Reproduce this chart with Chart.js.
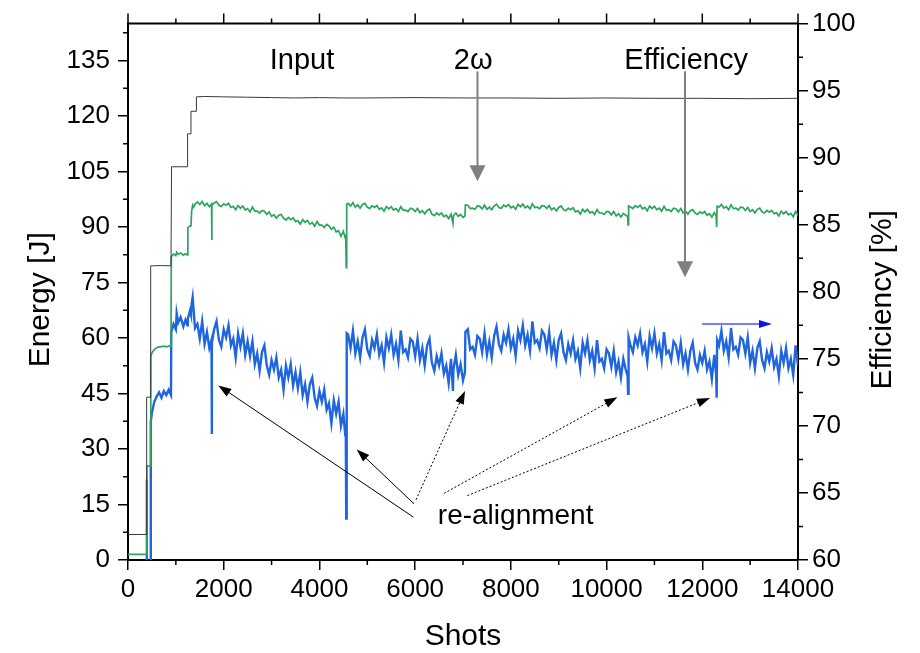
<!DOCTYPE html>
<html>
<head>
<meta charset="utf-8">
<script src="https://cdn.jsdelivr.net/npm/chart.js@4.4.1/dist/chart.umd.min.js"></script>
<style>
html,body{margin:0;padding:0;background:#fff;}
canvas{display:block;}
</style>
</head>
<body>
<canvas id="c" width="920" height="653"></canvas>
<script>
// ---------------- DATA ----------------
// Input energy (J) vs shots
const inputShots  = [0,380,390,470,474,700,898,910,1240,1245,1310,1316,1421,1430,1600,2000,2500,3000,3500,4000,4500,5000,6000,7000,8000,9000,10000,11000,12000,13000,14000];
const inputEnergy = [6.9,6.9,44.0,44.0,79.5,79.6,79.5,106.3,106.3,115.2,115.2,121.3,121.3,125.2,125.3,125.2,125.1,125.0,124.9,125.0,124.9,124.9,125.0,124.9,124.9,124.8,124.9,124.8,124.8,124.7,124.8];

// Shots for 2ω energy and efficiency, by segment between re-alignments
const shotsRamp = [0,380,392,396,470,476,500,550,600,650,700,750,800,850,898,905,950,1000,1017,1050,1100,1156,1200,1240,1250,1296,1316,1330,1351,1370,1400];
const shgRamp   = [1.5,1.5,25.4,25.4,25.4,55.0,56.0,56.9,57.4,57.6,57.7,57.8,57.6,57.8,57.8,82.0,82.7,82.3,83.2,82.6,83.0,82.4,82.8,82.5,89.8,90.3,90.6,94.3,95.9,95.4,96.2];
const effRamp   = [22,22,66,57,57,70.3,71.0,71.8,72.2,72.5,72.1,72.6,72.3,72.7,72.3,77.0,77.6,77.2,78.4,77.7,78.1,77.4,77.9,77.5,78.0,78.6,78.3,79.1,79.6,78.7,77.3];

const shotsRun1 = [1450,1500,1550,1600,1650,1700,1745,1750,1755,
  1800,1850,1900,1950,
  2000,2050,2100,2150,2200,2250,2300,2350,2400,2450,2500,2550,2600,2650,2700,2750,2800,2850,2900,2950,
  3000,3050,3100,3150,3200,3250,3300,3350,3400,3450,3500,3550,3600,3650,3700,3750,3800,3850,3900,3950,
  4000,4050,4100,4150,4200,4250,4300,4350,4400,4450,4500,
  4540,4550,4560,4570];
const shgRun1 = [96.8,96.1,96.9,95.8,96.4,95.5,96.2,86.5,96.0,
  96.5,96.9,95.9,95.6,
  96.3,95.9,96.4,95.3,95.6,94.7,95.8,95.1,95.7,94.6,95.0,94.1,95.4,94.3,94.3,93.8,94.5,94.3,93.4,94.1,
  92.9,93.3,92.4,93.2,93.4,92.4,91.9,92.6,92.0,92.5,91.5,91.7,90.8,92.0,91.3,91.8,90.8,91.2,90.2,91.5,
  90.5,90.5,89.9,90.7,90.3,89.4,90.0,88.7,89.0,87.5,88.9,
  87.0,88.0,79.0,96.2];
const effRun1 = [77.6,76.5,77.8,76.1,77.0,75.8,76.4,69.4,76.2,
  77.2,77.8,76.4,75.9,
  77.2,76.6,77.5,76.0,76.5,75.1,76.9,75.9,76.9,75.3,76.3,75.2,76.3,74.6,75.4,74.1,75.5,76.0,74.5,73.8,
  74.9,74.2,75.1,73.6,74.2,72.7,74.5,73.6,74.6,73.0,74.0,72.8,74.0,72.3,73.1,71.8,73.1,73.6,72.1,71.5,
  72.6,71.8,72.7,71.2,71.7,70.2,71.9,70.9,71.8,70.0,70.9,
  69.3,70.0,63.1,76.9];

const shotsRun2 = [4600,4650,4700,4750,4800,4850,4900,4950,
  5000,5050,5100,5150,5200,5250,5300,5350,5400,5450,5500,5550,5600,5650,5700,5750,5800,5850,5900,5950,
  6000,6050,6100,6150,6200,6250,6300,6350,6400,6450,6500,6550,6600,6650,6700,6750,
  6790,6800,6850,6900,6950,7000,7040];
const shgRun2 = [96.4,95.7,96.6,95.4,96.0,95.1,96.1,96.4,
  95.4,95.0,95.8,95.3,95.8,94.8,95.2,94.3,95.5,94.9,95.5,94.6,95.0,94.2,95.5,94.6,94.6,94.2,95.1,94.9,
  94.2,95.0,93.9,94.4,93.6,94.5,94.9,93.5,93.1,93.8,93.3,93.8,92.8,93.2,92.3,93.5,
  91.0,93.1,93.8,92.9,93.4,92.6,93.0];
const effRun2 = [76.8,75.8,77.1,75.4,76.3,75.1,76.6,77.2,
  75.7,75.2,76.4,75.8,76.8,75.3,76.0,74.7,76.6,75.8,76.8,75.3,76.1,74.9,77.1,75.5,75.7,75.1,76.5,76.3,
  75.2,76.5,74.9,75.8,74.5,76.0,76.5,74.7,74.1,75.2,74.5,75.4,73.9,74.5,73.2,75.0,
  72.6,74.2,75.3,73.8,74.6,73.4,74.0];

const shotsRun3 = [7050,
  7100,7150,7200,7250,7300,7350,7400,7450,7500,7550,7600,7650,7700,7750,7800,7850,7900,7950,
  8000,8050,8100,8150,8200,8250,8300,8350,8400,8450,8500,8550,8600,8650,8700,8750,8800,8850,8900,8950,
  9000,9050,9100,9150,9200,9250,9300,9350,9400,9450,9500,9550,9600,9650,9700,9750,9800,9850,9900,9950,
  10000,10050,10100,10150,10200,10250,10300,10350,10400,
  10440,10450];
const shgRun3 = [96.0,
  95.9,95.0,95.1,94.8,95.7,95.6,94.9,95.9,94.8,95.4,94.7,95.7,96.2,95.3,95.1,95.9,95.5,96.1,
  95.2,95.6,94.8,96.1,95.5,96.2,95.2,95.7,94.9,96.3,95.3,95.4,95.0,95.8,95.7,95.0,95.8,94.7,95.2,94.4,
  95.3,95.7,94.7,94.4,95.1,94.7,95.2,94.1,94.4,93.5,94.8,94.1,94.8,93.8,94.2,93.4,94.7,93.8,93.8,93.4,
  94.2,94.1,93.3,94.2,93.0,93.6,92.7,93.7,93.2,
  92.9,90.6];
const effRun3 = [77.0,
  77.2,75.7,75.9,75.3,76.7,76.5,75.5,76.9,75.3,76.3,75.1,76.7,77.4,76.1,75.6,76.8,76.2,77.2,
  75.8,76.5,75.2,77.1,76.4,77.5,76.0,76.8,75.6,77.8,76.2,76.4,75.8,77.1,76.8,75.7,77.0,75.3,76.2,74.9,
  76.4,76.9,75.5,74.9,76.1,75.4,76.4,75.0,75.6,74.3,76.2,75.4,76.4,74.9,75.6,74.3,76.4,74.8,75.0,74.3,
  75.7,75.4,74.4,75.6,74.0,74.8,73.6,75.0,74.2,
  73.7,72.4];

const shotsRun4 = [10460,
  10500,10550,10600,10650,10700,10750,10800,10850,10900,10950,
  11000,11050,11100,11150,11200,11250,11300,11350,11400,11450,11500,11550,11600,11650,11700,11750,11800,11850,11900,11950,
  12000,12050,12100,12150,12200,12250,
  12290,12300];
const shgRun4 = [95.7,
  95.4,95.0,95.8,95.3,95.9,94.9,95.3,94.4,95.7,95.0,
  95.6,94.7,95.1,94.3,95.6,94.6,94.7,94.2,95.1,94.9,94.1,95.0,93.8,94.3,93.5,94.4,94.7,93.8,93.4,94.1,
  93.7,94.2,93.2,93.6,92.7,93.9,
  93.0,90.0];
const effRun4 = [76.6,
  76.0,75.5,76.6,76.0,76.9,75.5,76.1,74.8,76.7,75.8,
  76.9,75.4,76.1,74.9,77.0,75.4,75.6,74.9,76.3,76.0,75.0,76.2,74.6,75.4,74.2,75.6,76.2,74.7,74.2,75.3,
  74.7,75.6,74.2,74.8,73.5,75.3,
  73.8,72.1];

const shotsRun5 = [12310,
  12350,12400,12450,12500,12550,12600,12650,12700,12750,12800,12850,12900,12950,
  13000,13050,13100,13150,13200,13250,13300,13350,13400,13450,13500,13550,13600,13650,13700,13750,13800,13850,13900,13950,
  14000];
const shgRun5 = [95.6,
  95.4,96.1,95.1,95.5,94.7,96.0,95.0,95.1,94.6,95.4,95.3,94.5,95.3,
  94.2,94.7,93.8,94.8,95.1,94.1,93.8,94.5,94.0,94.5,93.6,93.9,93.0,94.3,93.6,94.2,93.3,93.7,92.8,94.2,
  93.2];
const effRun5 = [76.4,
  76.0,77.1,75.6,76.3,75.1,77.3,75.7,75.9,75.3,76.6,76.4,75.4,76.6,
  74.7,75.6,74.3,75.8,76.3,74.9,74.3,75.5,74.8,75.8,74.4,75.0,73.7,75.6,74.7,75.8,74.3,75.0,73.8,76.0,
  74.5];

// Axis tick values
const xMinorTicks  = [1000,3000,5000,7000,9000,11000,13000];
const xMajorTicks  = [0,2000,4000,6000,8000,10000,12000,14000];
const yMinorTicks  = [7.5,22.5,37.5,52.5,67.5,82.5,97.5,112.5,127.5,142.5];
const y2MinorTicks = [62.5,67.5,72.5,77.5,82.5,87.5,92.5,97.5];

// Annotations (data coordinates: shots / energy J / efficiency %)
const labelTexts  = ['Input', '2\u03c9', 'Efficiency', 're-alignment'];
const labelShots  = [3636, 7212, 11662, 8100];
const labelEnergy = [132.6, 132.6, 132.6, 9.6];
const grayArrowShots = [7303, 11639];
const grayArrowFromE = [132.1, 132.1];
const grayArrowToE   = [102.4, 76.4];
const ptrFromShot = [5963, 5976, 6018, 6603, 7090];
const ptrFromE    = [11.6, 15.2, 16.3, 18.0, 17.4];
const ptrToShot   = [1887, 4779, 7042, 10225, 12162];
const ptrToE      = [47.2, 29.9, 45.7, 44.0, 43.8];
const ptrDotted   = [false, false, true, true, true];
const blueArrowShots = [11994, 13457];
const blueArrowEff   = 77.6;

// ---------------- BUILD ----------------
const shotsAll = [].concat(shotsRamp, shotsRun1, shotsRun2, shotsRun3, shotsRun4, shotsRun5);
const shgAll   = [].concat(shgRamp, shgRun1, shgRun2, shgRun3, shgRun4, shgRun5);
const effAll   = [].concat(effRamp, effRun1, effRun2, effRun3, effRun4, effRun5);
[[shotsRamp,shgRamp,effRamp],[shotsRun1,shgRun1,effRun1],[shotsRun2,shgRun2,effRun2],[shotsRun3,shgRun3,effRun3],[shotsRun4,shgRun4,effRun4],[shotsRun5,shgRun5,effRun5]].forEach((g,i)=>{
  if (g[0].length!==g[1].length || g[0].length!==g[2].length) throw new Error('length mismatch in segment '+i+': '+g.map(a=>a.length).join(','));
});
if (inputShots.length!==inputEnergy.length) throw new Error('input length mismatch');

const FONT = "'Liberation Sans', Arial, sans-serif";
Chart.defaults.font.family = FONT;
Chart.defaults.color = '#000';

function arrowHead(ctx, x1, y1, x2, y2, len, half, color) {
  const ang = Math.atan2(y2 - y1, x2 - x1);
  ctx.fillStyle = color;
  ctx.beginPath();
  ctx.moveTo(x2, y2);
  ctx.lineTo(x2 - len*Math.cos(ang) + half*Math.sin(ang), y2 - len*Math.sin(ang) - half*Math.cos(ang));
  ctx.lineTo(x2 - len*Math.cos(ang) - half*Math.sin(ang), y2 - len*Math.sin(ang) + half*Math.cos(ang));
  ctx.closePath();
  ctx.fill();
}

const decor = {
  id: 'decor',
  afterDraw(chart) {
    const {ctx, chartArea: a, scales: {x, y, y2}} = chart;
    ctx.save();
    // top frame line
    ctx.strokeStyle = '#000';
    ctx.lineWidth = 2;
    ctx.beginPath(); ctx.moveTo(a.left - 1, a.top); ctx.lineTo(a.right + 1, a.top); ctx.stroke();
    // ticks
    ctx.lineWidth = 1.5;
    ctx.beginPath();
    xMajorTicks.forEach(v => { const p = x.getPixelForValue(v); ctx.moveTo(p, a.top); ctx.lineTo(p, a.top - 10); });
    xMinorTicks.forEach(v => { const p = x.getPixelForValue(v);
      ctx.moveTo(p, a.top); ctx.lineTo(p, a.top - 5);
      ctx.moveTo(p, a.bottom); ctx.lineTo(p, a.bottom + 5); });
    yMinorTicks.forEach(v => { const p = y.getPixelForValue(v); ctx.moveTo(a.left, p); ctx.lineTo(a.left - 5, p); });
    y2MinorTicks.forEach(v => { const p = y2.getPixelForValue(v); ctx.moveTo(a.right, p); ctx.lineTo(a.right + 5, p); });
    ctx.stroke();

    // vertical axis titles
    ctx.fillStyle = '#000';
    ctx.font = '30px ' + FONT;
    ctx.textAlign = 'center';
    ctx.textBaseline = 'middle';
    const midY = (a.top + a.bottom) / 2 + 8;
    ctx.save(); ctx.translate(41, midY); ctx.rotate(-Math.PI/2); ctx.fillText('Energy [J]', 0, 0); ctx.restore();
    ctx.save(); ctx.translate(a.right + 85, midY); ctx.rotate(-Math.PI/2); ctx.fillText('Efficiency [%]', 0, 0); ctx.restore();

    // labels
    ctx.textBaseline = 'alphabetic';
    labelTexts.forEach((t, i) => {
      ctx.font = (i === 3 ? '28px ' : '29px ') + FONT;
      ctx.fillText(t, x.getPixelForValue(labelShots[i]), y.getPixelForValue(labelEnergy[i]));
    });

    // gray arrows
    ctx.strokeStyle = '#7f7f7f';
    ctx.lineWidth = 2;
    grayArrowShots.forEach((s, i) => {
      const px = x.getPixelForValue(s);
      const y1 = y.getPixelForValue(grayArrowFromE[i]);
      const yt = y.getPixelForValue(grayArrowToE[i]);
      ctx.beginPath(); ctx.moveTo(px, y1); ctx.lineTo(px, yt - 12); ctx.stroke();
      arrowHead(ctx, px, y1, px, yt, 16, 8, '#7f7f7f');
    });

    // pointer arrows (re-alignment)
    ctx.strokeStyle = '#000';
    ctx.lineWidth = 1;
    ptrFromShot.forEach((s, i) => {
      const x1 = x.getPixelForValue(s), y1 = y.getPixelForValue(ptrFromE[i]);
      const x2 = x.getPixelForValue(ptrToShot[i]), y2p = y.getPixelForValue(ptrToE[i]);
      const ang = Math.atan2(y2p - y1, x2 - x1);
      ctx.setLineDash(ptrDotted[i] ? [2, 2] : []);
      ctx.beginPath(); ctx.moveTo(x1, y1); ctx.lineTo(x2 - 8*Math.cos(ang), y2p - 8*Math.sin(ang)); ctx.stroke();
      ctx.setLineDash([]);
      arrowHead(ctx, x1, y1, x2, y2p, 13, 4.5, '#000');
    });

    // blue arrow pointing to right axis
    const bx1 = x.getPixelForValue(blueArrowShots[0]);
    const bx2 = x.getPixelForValue(blueArrowShots[1]);
    const by = y2.getPixelForValue(blueArrowEff);
    ctx.strokeStyle = '#7b7bff';
    ctx.lineWidth = 2;
    ctx.beginPath(); ctx.moveTo(bx1, by); ctx.lineTo(bx2 - 8, by); ctx.stroke();
    arrowHead(ctx, bx1, by, bx2, by, 13, 4, '#1212e6');
    ctx.restore();
  }
};

const tickFont = {size: 26, family: FONT};
new Chart(document.getElementById('c'), {
  type: 'line',
  data: {
    datasets: [
      {label: 'Input', data: inputShots.map((s, i) => ({x: s, y: inputEnergy[i]})), yAxisID: 'y',
       borderColor: '#3a3a3a', borderWidth: 1, pointRadius: 0, tension: 0},
      {label: '2\u03c9', data: shotsAll.map((s, i) => ({x: s, y: shgAll[i]})), yAxisID: 'y',
       borderColor: '#2ca35f', borderWidth: 1.7, pointRadius: 0, tension: 0},
      {label: 'Efficiency', data: shotsAll.map((s, i) => ({x: s, y: effAll[i]})), yAxisID: 'y2',
       borderColor: '#1f66de', borderWidth: 2.4, pointRadius: 0, tension: 0}
    ]
  },
  options: {
    responsive: false,
    animation: false,
    events: [],
    layout: {padding: {top: 19, left: 0, right: 0, bottom: 0}},
    plugins: {legend: {display: false}, tooltip: {enabled: false}},
    scales: {
      x: {
        type: 'linear', position: 'bottom', min: 0, max: 14000,
        ticks: {stepSize: 2000, font: tickFont, color: '#000', padding: 4, maxRotation: 0, autoSkip: false,
                includeBounds: false, callback: v => String(v)},
        grid: {drawOnChartArea: false, drawTicks: true, tickLength: 10, color: '#000', lineWidth: 1.5},
        border: {display: true, color: '#000', width: 2},
        title: {display: true, text: 'Shots', font: {size: 30, family: FONT}, color: '#000', padding: {top: 0, bottom: -2}},
        afterFit: s => { s.height = 93; }
      },
      y: {
        type: 'linear', position: 'left', min: 0, max: 145,
        ticks: {stepSize: 15, font: tickFont, color: '#000', padding: 8, includeBounds: false, callback: v => String(v)},
        grid: {drawOnChartArea: false, drawTicks: true, tickLength: 10, color: '#000', lineWidth: 1.5},
        border: {display: true, color: '#000', width: 2},
        afterFit: s => { s.width = 128; }
      },
      y2: {
        type: 'linear', position: 'right', min: 60, max: 100,
        ticks: {stepSize: 5, font: tickFont, color: '#000', padding: 4, includeBounds: false, callback: v => String(v)},
        grid: {drawOnChartArea: false, drawTicks: true, tickLength: 10, color: '#000', lineWidth: 1.5},
        border: {display: true, color: '#000', width: 2},
        afterFit: s => { s.width = 122; }
      }
    }
  },
  plugins: [decor]
});
</script>
</body>
</html>
